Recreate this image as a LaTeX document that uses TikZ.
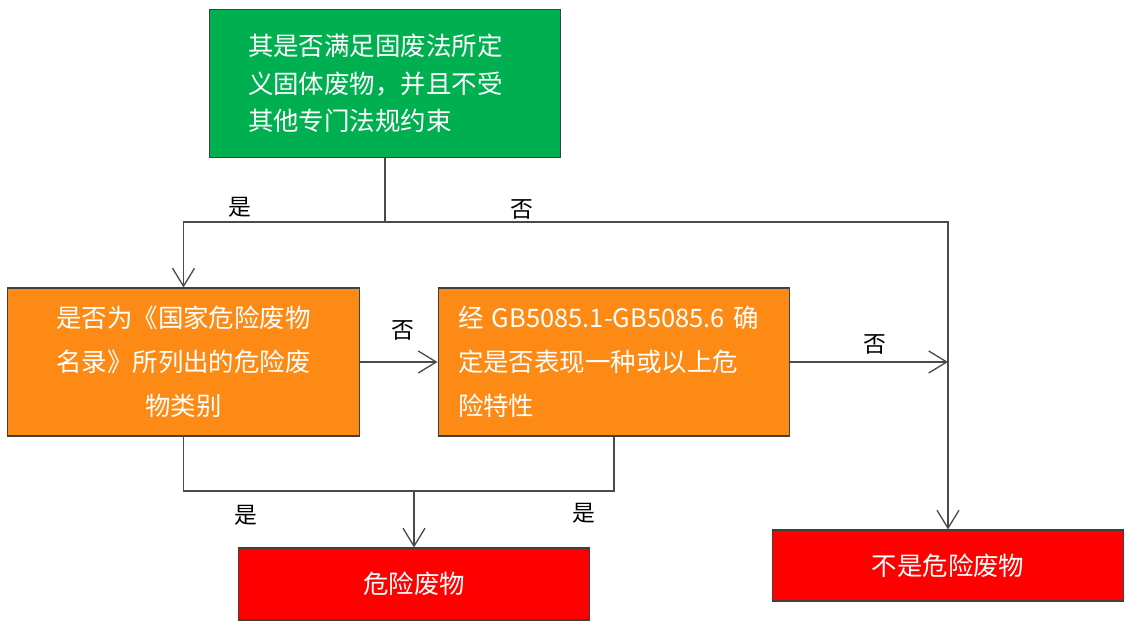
\documentclass[tikz,border=0pt]{standalone}
\usepackage{xcolor}
\usepackage{fontspec}
\usepackage{tikz}
\usetikzlibrary{arrows.meta}
\usetikzlibrary{positioning}
\usetikzlibrary{calc}
\newfontfamily\cjk{Noto Sans CJK SC}
\definecolor{boxgreen}{HTML}{00B050}
\definecolor{boxorange}{HTML}{FD8A14}
\definecolor{boxred}{HTML}{FF0000}
\definecolor{linegray}{HTML}{4A4A4A}

\begin{document}
\begin{tikzpicture}[x=0.02cm,y=-0.02cm,
    box/.style={draw=black!75,line width=0.6pt,rectangle,text=white,
      font=\cjk\fontsize{14.5}{25}\selectfont,minimum width=7.04cm,minimum height=2.96cm},
    lbl/.style={font=\cjk\fontsize{13}{13}\selectfont,inner sep=0pt},
    conn/.style={draw=linegray,line width=0.75pt},
    arr/.style={conn,-{Straight Barb[length=0.36cm,width=0.44cm,line width=0.75pt]}}]
          \useasboundingbox (0,0) rectangle (1134,634);

          \node[box,fill=boxgreen,text width=5.48cm,inner xsep=0.78cm,align=left,
            font=\cjk\fontsize{14.5}{21.3}\selectfont] (green) at (385,83.5)
            {其是否满足固废法所定\\义固体废物，并且不受\\其他专门法规约束};

          \node[box,fill=boxorange,text width=6.42cm,inner xsep=0.3cm,align=center] (orangeA) at (183.5,362)
            {是否为《国家危险废物\\名录》所列出的危险废\\物类别};
          \node[box,fill=boxorange,text width=6.24cm,inner xsep=0.4cm,align=left] (orangeB) at (614,362)
            {经~GB5085.1-GB5085.6~确\\定是否表现一种或以上危\\险特性};

          \node[box,fill=boxred,minimum height=1.44cm] (redA) at (414,584) {危险废物};
          \node[box,fill=boxred,minimum height=1.42cm] (redB) at (948,565.5) {不是危险废物};

          \coordinate (split) at (385,222);
          \draw[conn] (green.south) -- (split);
          \draw[arr] (split) -| (orangeA.north);
          \draw[arr] (split) -| (redB.north);
          \node[lbl] (yesA) at (240,207) {是};
          \node[lbl] (noA) at (522,209) {否};

          \draw[arr] (orangeA.east) -- (orangeB.west);
          \node[lbl] (noB) at (403,330) {否};
          \draw[arr] (orangeB.east) -- (orangeB.east -| redB.north);
          \node[lbl] (noC) at (875,344) {否};

          \coordinate (join) at (414,491);
          \draw[conn] (orangeA.south) |- (join) -| (orangeB.south);
          \draw[arr] (join) -- (redA.north);
          \node[lbl] (yesB) at (246,515) {是};
          \node[lbl] (yesC) at (584,513) {是};

\end{tikzpicture}
\end{document}
